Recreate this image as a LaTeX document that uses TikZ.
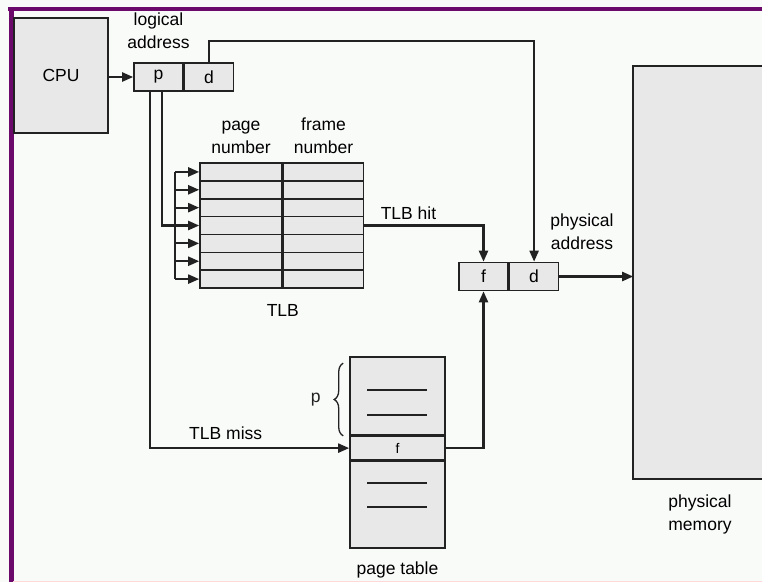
\documentclass[tikz,border=0pt]{standalone}
\usepackage{fontspec}
\setmainfont{Liberation Sans}
\usepackage{tikz}
\usetikzlibrary{positioning, arrows.meta, decorations.pathreplacing}
\definecolor{frameviolet}{HTML}{6B0A6B}
\definecolor{boxgray}{HTML}{E8E8E8}
\definecolor{pagebg}{HTML}{F9FBF9}
\definecolor{inkgray}{HTML}{222222}

\begin{document}
\begin{tikzpicture}[x=1pt, y=-1pt, >={Triangle[length=11pt, width=9pt]},
    font=\fontsize{17.5}{23}\selectfont,
    box/.style={rectangle, draw=inkgray, line width=1.6pt, fill=boxgray, inner sep=0pt},
    addrcell/.style={box, minimum width=49pt, minimum height=28pt},
    tlbrow/.style={box, minimum height=17.86pt},
    wire/.style={draw=inkgray, line width=2.2pt},
    caption/.style={align=center, inner sep=0pt}]
    \useasboundingbox (0,0) rectangle (762,582);
    \fill[pagebg] (0,0) rectangle (762,582);
    \draw[frameviolet, line width=4pt] (8,9) -- (762,9);
    \draw[frameviolet, line width=5pt] (11,7) -- (11,582);
    \draw[pink!60, line width=1pt] (13,581) -- (762,581);

    \node (cpu) [box, minimum width=94pt, minimum height=115pt] at (61,75.5) {CPU};
    \node (lp) [addrcell] at (158.5,77) {p};
    \node (ld) [addrcell, right=0pt of lp] {d};
    \node (logical) [caption, above=13pt of lp.north] {logical\\address};

    % TLB
    \foreach \i in {1,...,7} {
        \node (tp\i) [tlbrow, minimum width=82pt] at (241,{163+17.86*\i-8.93}) {};
        \node (tf\i) [tlbrow, minimum width=80pt, right=0pt of tp\i] {};
    }
    \node (pagenum) [caption, above=8pt of tp1.north] {page\\number};
    \node (framenum) [caption, above=8pt of tf1.north] {frame\\number};
    \node (tlbname) [caption, below=15pt of tp7.south east] {TLB};

    % page table
    \node (ptop) [box, minimum width=95pt, minimum height=78pt] at (397.5,396) {};
    \node (ptf) [box, minimum width=95pt, minimum height=23pt, below=0pt of ptop, font=\fontsize{14}{16}\selectfont] {f};
    \node (pbot) [box, minimum width=95pt, minimum height=87pt, below=0pt of ptf] {};
    \node (ptname) [caption, below=13pt of pbot.south] {page table};
    \foreach \y in {390,415,483,507}
        \draw[inkgray, line width=1.6pt] (367,\y) -- (427,\y);
    \draw[inkgray, line width=1.3pt, decorate, decoration={brace, amplitude=9pt}]
        ([xshift=-6pt]ptf.north west) -- ([xshift=-6pt, yshift=-7pt]ptop.north west)
        node (pmark) [caption, midway, left=22pt] {p};

    % physical address and memory
    \node (pf) [addrcell] at (483.5,276.5) {f};
    \node (pd) [addrcell, right=0pt of pf] {d};
    \node (physaddr) [caption] at (582,232) {physical\\address};
    \node (mem) [box, draw=none, minimum width=128pt, minimum height=411pt] at (698,272.5) {};
    \draw[inkgray, line width=1.6pt] (mem.north east) -- (mem.north west) -- (mem.south west) -- (mem.south east);
    \node (memname) [caption] at (700,514) {physical\\memory};

    % connectors
    \coordinate (bus) at (175,0);
    \coordinate (dlevel) at (0,41);
    \draw[wire, ->] (cpu.east |- lp.west) -- (lp.west);
    \draw[wire] (tp1.west -| bus) -- (tp7.west -| bus);
    \foreach \i in {1,...,7}
        \draw[wire, ->] (tp\i.west -| bus) -- (tp\i.west);
    \draw[wire] ([xshift=3.5pt]lp.south) |- (tp4.west -| bus);
    \draw[wire, ->] ([xshift=-8.5pt]lp.south) |- (ptf.west)
        node [caption, pos=0.69, above=7pt] {TLB miss};
    \draw[wire, ->] (tf4.east) -| (pf.north)
        node [caption, pos=0.185, above=5pt] {TLB hit};
    \draw[wire, ->] (ld.north) -- (ld.north |- dlevel) -| (pd.north);
    \draw[wire, ->] (ptf.east) -| (pf.south);
    \draw[wire, ->] (pd.east) -- (pd.east -| mem.west);
\end{tikzpicture}
\end{document}
